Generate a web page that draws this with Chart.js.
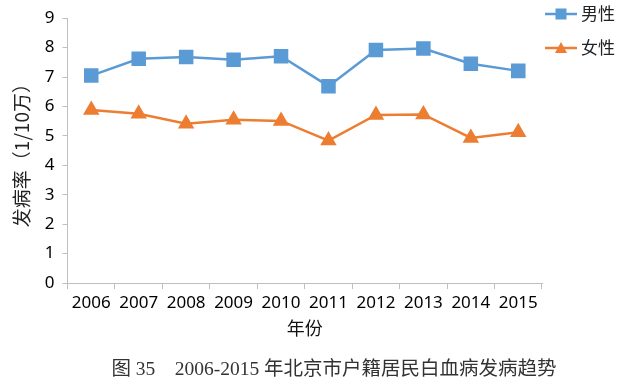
<!DOCTYPE html>
<html>
<head>
<meta charset="utf-8">
<script src="https://cdn.jsdelivr.net/npm/chart.js@4/dist/chart.umd.min.js"></script>
<style>
  html, body { margin: 0; padding: 0; background: #fff; }
  #wrap { width: 640px; height: 385px; position: relative; }
  #caption {
    position: absolute; left: 0; width: 668px; top: 352px;
    text-align: center; color: #333;
    font: 19.5px 'Liberation Serif', 'Noto Sans CJK SC', serif;
    white-space: pre;
  }
</style>
</head>
<body>
<div id="wrap"><canvas id="chart"></canvas><div id="caption">图 35    2006-2015 年北京市户籍居民白血病发病趋势</div></div>
<script>
const years = ["2006", "2007", "2008", "2009", "2010", "2011", "2012", "2013", "2014", "2015"];
const male = [7.05, 7.62, 7.68, 7.59, 7.71, 6.69, 7.92, 7.97, 7.45, 7.21];
const female = [5.88, 5.75, 5.41, 5.55, 5.51, 4.84, 5.71, 5.73, 4.93, 5.12];
const seriesNames = ["男性", "女性"];
const colors = ["#5b9bd5", "#ed7d31"];

const axisColor = "#bfbfbf";
const tickFont = { family: "'Noto Sans', 'Noto Sans CJK SC', sans-serif", size: 17 };

// legend drawn to the right of the plot, line with marker like the original
const sideLegend = {
  id: "sideLegend",
  afterDraw(chart) {
    const ctx = chart.ctx;
    const x0 = chart.chartArea.right + 3;
    chart.data.datasets.forEach((ds, i) => {
      const y = 14 + i * 34;
      ctx.save();
      ctx.strokeStyle = ds.borderColor;
      ctx.lineWidth = 2.5;
      ctx.beginPath();
      ctx.moveTo(x0, y);
      ctx.lineTo(x0 + 32, y);
      ctx.stroke();
      ctx.fillStyle = ds.backgroundColor;
      const cx = x0 + 16;
      if (ds.pointStyle === "rect") {
        ctx.fillRect(cx - 5.5, y - 5.5, 11, 11);
      } else {
        ctx.beginPath();
        ctx.moveTo(cx, y - 6);
        ctx.lineTo(cx + 6, y + 5);
        ctx.lineTo(cx - 6, y + 5);
        ctx.closePath();
        ctx.fill();
      }
      ctx.fillStyle = "#222";
      ctx.font = "17px 'Noto Sans CJK SC', sans-serif";
      ctx.textBaseline = "middle";
      ctx.fillText(ds.label, x0 + 36, y);
      ctx.restore();
    });
  }
};

new Chart(document.getElementById("chart"), {
  type: "line",
  data: {
    labels: years,
    datasets: [
      {
        label: seriesNames[0],
        data: male,
        borderColor: colors[0],
        backgroundColor: colors[0],
        borderWidth: 2.5,
        pointStyle: "rect",
        pointRadius: 8.5,
        pointHoverRadius: 8.5,
        tension: 0
      },
      {
        label: seriesNames[1],
        data: female,
        borderColor: colors[1],
        backgroundColor: colors[1],
        borderWidth: 2.5,
        pointStyle: "triangle",
        pointRadius: 7,
        pointHoverRadius: 7,
        tension: 0
      }
    ]
  },
  options: {
    responsive: true,
    maintainAspectRatio: false,
    animation: false,
    layout: { padding: { top: 8, right: 98, left: 10, bottom: 46 } },
    plugins: {
      legend: { display: false },
      tooltip: { enabled: false }
    },
    scales: {
      x: {
        offset: true,
        grid: { display: true, drawOnChartArea: false, drawTicks: true, tickLength: 6, color: axisColor, offset: true },
        border: { display: true, color: axisColor, width: 1 },
        ticks: { color: "#000", font: tickFont, maxRotation: 0, padding: 4 },
        title: {
          display: true,
          text: "年份",
          color: "#111",
          font: { family: "'Noto Sans CJK SC', sans-serif", size: 18 },
          padding: { top: 0, bottom: 0 }
        }
      },
      y: {
        min: 0,
        max: 9,
        ticks: { stepSize: 1, color: "#000", font: tickFont, padding: 8 },
        grid: { display: true, drawOnChartArea: false, drawTicks: true, tickLength: 5, color: axisColor },
        border: { display: true, color: axisColor, width: 1 },
        title: {
          display: true,
          text: "发病率（1/10万）",
          color: "#222",
          font: { family: "'Noto Sans CJK SC', sans-serif", size: 19 },
          padding: { top: 0, bottom: 4 }
        }
      }
    }
  },
  plugins: [sideLegend]
});
</script>
</body>
</html>
